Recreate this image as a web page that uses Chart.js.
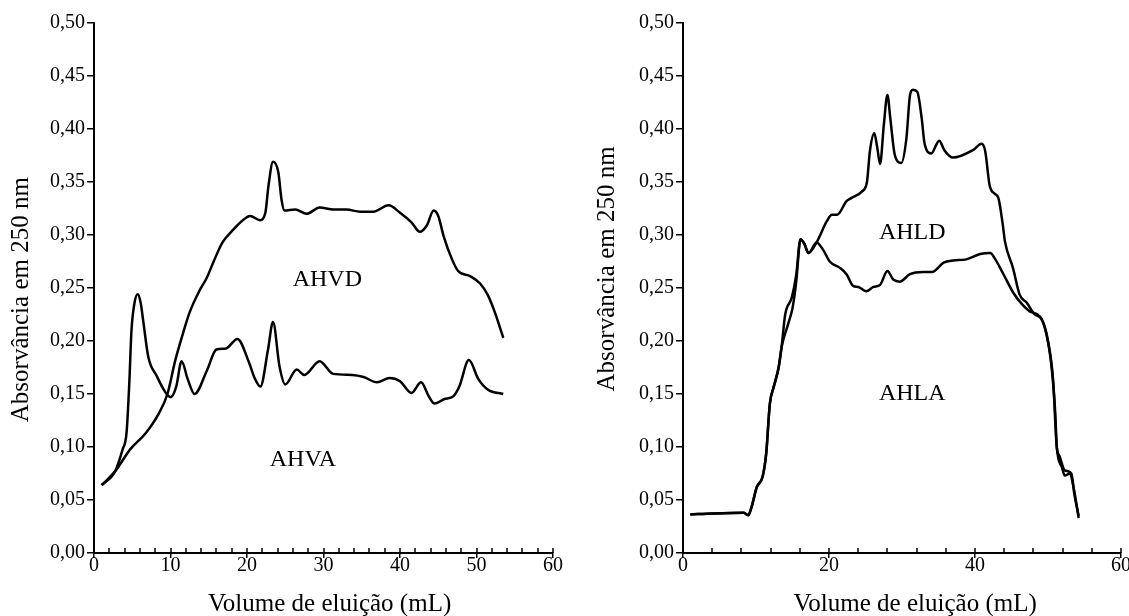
<!DOCTYPE html>
<html>
<head>
<meta charset="utf-8">
<script src="https://cdn.jsdelivr.net/npm/chart.js@4.4.1/dist/chart.umd.min.js"></script>
<style>
  body { margin: 0; background: #fff; }
  #left { position: absolute; left: 0; top: 0; width: 580px; height: 616px; }
  #right { position: absolute; left: 580px; top: 0; width: 549px; height: 616px; overflow: hidden; }
</style>
</head>
<body>
<div id="left"><canvas id="chartLeft" width="580" height="616"></canvas></div>
<div id="right"><canvas id="chartRight" width="575" height="616"></canvas></div>
<script>
// AHVA / AHVD (left panel)
const ahvaX = [1.0, 2.75, 3.75, 4.25, 4.6, 4.9, 5.25, 5.7, 6.1, 6.45, 7.1, 8.2, 9.3, 10.0, 10.75, 11.45, 12.25, 13.15, 14.75, 16.0, 17.25, 18.75, 20.25, 21.0, 21.75, 22.75, 23.4, 24.25, 25.0, 26.5, 27.5, 29.5, 31.25, 33.75, 35.25, 37.0, 38.65, 40.0, 41.5, 42.75, 43.75, 44.5, 45.75, 47.0, 47.75, 49.0, 50.25, 51.5, 53.5];
const ahvaY = [0.064, 0.077, 0.098, 0.113, 0.158, 0.210, 0.234, 0.244, 0.236, 0.218, 0.185, 0.167, 0.152, 0.147, 0.157, 0.181, 0.164, 0.150, 0.172, 0.192, 0.193, 0.202, 0.180, 0.165, 0.157, 0.192, 0.218, 0.176, 0.159, 0.173, 0.168, 0.181, 0.169, 0.168, 0.166, 0.161, 0.165, 0.162, 0.151, 0.161, 0.148, 0.141, 0.145, 0.148, 0.157, 0.182, 0.164, 0.154, 0.150];
const ahvdX = [1.0, 2.75, 4.75, 6.75, 8.5, 9.6, 10.6, 11.5, 12.5, 13.9, 14.7, 15.7, 16.8, 18.2, 19.3, 20.4, 21.7, 22.4, 22.8, 23.4, 24.1, 24.5, 24.9, 26.3, 27.8, 29.5, 31.3, 33.0, 34.8, 36.5, 38.5, 40.0, 41.5, 42.6, 43.5, 44.4, 45.0, 45.7, 46.8, 47.6, 49.2, 50.5, 51.5, 52.4, 53.5];
const ahvdY = [0.064, 0.077, 0.098, 0.113, 0.132, 0.150, 0.181, 0.204, 0.227, 0.249, 0.259, 0.276, 0.293, 0.305, 0.313, 0.318, 0.314, 0.321, 0.346, 0.369, 0.359, 0.334, 0.323, 0.324, 0.320, 0.326, 0.324, 0.324, 0.322, 0.322, 0.328, 0.321, 0.312, 0.303, 0.309, 0.323, 0.318, 0.299, 0.277, 0.266, 0.261, 0.254, 0.243, 0.227, 0.203];

// AHLA / AHLD (right panel)
const ahlaX = [1.0, 4.15, 8.3, 8.95, 9.4, 10.1, 10.9, 11.4, 11.9, 12.4, 13.1, 13.5, 14.4, 15.0, 15.5, 16.1, 16.6, 17.2, 18.3, 19.2, 20.1, 21.5, 22.4, 23.3, 24.0, 25.1, 26.1, 27.0, 28.0, 28.8, 29.7, 31.1, 32.9, 34.1, 35.7, 37.0, 38.8, 40.7, 42.1, 42.7, 43.9, 45.2, 46.4, 47.5, 48.9, 49.8, 50.5, 51.0, 51.2, 51.9, 52.3, 53.0, 53.5, 54.2];
const ahlaY = [0.0364, 0.0373, 0.0379, 0.0357, 0.0435, 0.062, 0.072, 0.094, 0.141, 0.156, 0.175, 0.194, 0.216, 0.231, 0.255, 0.296, 0.292, 0.283, 0.293, 0.286, 0.275, 0.269, 0.263, 0.252, 0.251, 0.247, 0.251, 0.253, 0.266, 0.258, 0.256, 0.263, 0.265, 0.265, 0.274, 0.276, 0.277, 0.282, 0.283, 0.278, 0.263, 0.246, 0.235, 0.228, 0.223, 0.206, 0.175, 0.131, 0.100, 0.081, 0.073, 0.075, 0.062, 0.033];
const ahldX = [1.0, 4.15, 8.3, 8.95, 9.4, 10.1, 10.9, 11.4, 11.9, 12.4, 13.1, 13.5, 14.0, 14.9, 15.5, 16.1, 16.6, 17.2, 18.3, 19.7, 20.4, 21.1, 22.4, 23.1, 24.5, 25.2, 25.6, 26.2, 26.6, 27.0, 27.5, 28.0, 28.4, 29.0, 29.9, 30.6, 31.1, 31.5, 32.1, 32.7, 33.1, 34.0, 35.1, 35.8, 37.0, 39.7, 40.9, 41.4, 42.0, 42.7, 43.2, 43.8, 44.1, 45.2, 46.1, 47.1, 48.2, 49.1, 50.0, 50.7, 51.2, 51.6, 52.3, 53.2, 53.6, 54.2];
const ahldY = [0.0364, 0.0373, 0.0379, 0.0357, 0.0435, 0.062, 0.072, 0.094, 0.141, 0.156, 0.175, 0.194, 0.225, 0.241, 0.262, 0.296, 0.292, 0.283, 0.293, 0.313, 0.319, 0.319, 0.332, 0.335, 0.341, 0.350, 0.379, 0.396, 0.383, 0.367, 0.403, 0.432, 0.410, 0.376, 0.368, 0.391, 0.432, 0.437, 0.435, 0.410, 0.386, 0.377, 0.389, 0.380, 0.373, 0.380, 0.386, 0.379, 0.347, 0.339, 0.335, 0.310, 0.294, 0.269, 0.244, 0.236, 0.225, 0.221, 0.200, 0.163, 0.100, 0.091, 0.078, 0.075, 0.056, 0.035];

// curve labels: [text, x, y]
const leftLabels = [["AHVD", 30.5, 0.258], ["AHVA", 27.3, 0.088]];
const rightLabels = [["AHLD", 31.4, 0.302], ["AHLA", 31.4, 0.150]];

const xTitle = "Volume de eluição (mL)";
const yTitle = "Absorvância em 250 nm";

const serif = "'Liberation Serif', 'Times New Roman', serif";

function pts(xs, ys) {
  return xs.map((x, i) => ({ x: x, y: ys[i] }));
}

const panelExtras = {
  id: "panelExtras",
  afterDraw(chart, args, opts) {
    const { ctx, chartArea } = chart;
    const xs = chart.scales.x;
    const ys = chart.scales.y;
    ctx.save();
    // small inward marks on the x axis
    ctx.strokeStyle = "#000";
    ctx.lineWidth = 1.5;
    xs.ticks.forEach(t => {
      const px = Math.round(xs.getPixelForValue(t.value));
      ctx.beginPath();
      ctx.moveTo(px, chartArea.bottom);
      ctx.lineTo(px, chartArea.bottom - 5);
      ctx.stroke();
    });
    ctx.fillStyle = "#000";
    // curve names
    ctx.font = "24px " + serif;
    ctx.textAlign = "center";
    ctx.textBaseline = "middle";
    opts.labels.forEach(l => {
      ctx.fillText(l[0], xs.getPixelForValue(l[1]), ys.getPixelForValue(l[2]));
    });
    // axis titles
    ctx.font = "25px " + serif;
    ctx.textBaseline = "alphabetic";
    ctx.fillText(xTitle, xs.getPixelForValue(opts.xTitleAt), 611);
    ctx.translate(opts.yTitleBase, ys.getPixelForValue(opts.yTitleAt));
    ctx.rotate(-Math.PI / 2);
    ctx.fillText(yTitle, 0, 0);
    ctx.restore();
  }
};

function makeChart(id, sets, step, major, yAxisWidth, padRight, extras) {
  return new Chart(document.getElementById(id), {
    type: "line",
    data: {
      datasets: sets.map(s => ({
        data: s,
        borderColor: "#000",
        borderWidth: 2.5,
        pointRadius: 0,
        fill: false,
        cubicInterpolationMode: "monotone"
      }))
    },
    options: {
      responsive: false,
      animation: false,
      devicePixelRatio: 1,
      layout: { padding: { top: 23, right: padRight, bottom: 0, left: 0 } },
      plugins: {
        legend: { display: false },
        tooltip: { enabled: false },
        panelExtras: extras
      },
      scales: {
        x: {
          type: "linear",
          min: 0,
          max: 60,
          afterFit: s => { s.height = 63; },
          border: { display: true, color: "#000", width: 2 },
          grid: {
            drawOnChartArea: false,
            drawTicks: true,
            tickLength: 5,
            lineWidth: 1.5,
            tickColor: c => (c.tick && c.tick.value % major === 0) ? "#000" : "rgba(0,0,0,0)"
          },
          ticks: {
            stepSize: step,
            autoSkip: false,
            maxRotation: 0,
            padding: -4,
            color: "#000",
            font: { family: serif, size: 20 },
            callback: v => (v % major === 0 ? String(v) : "")
          }
        },
        y: {
          min: 0,
          max: 0.5,
          afterFit: s => { s.width = yAxisWidth; },
          border: { display: true, color: "#000", width: 2 },
          grid: {
            drawOnChartArea: false,
            drawTicks: true,
            tickLength: 7,
            lineWidth: 1.5,
            tickColor: "#000"
          },
          ticks: {
            stepSize: 0.05,
            padding: 2,
            color: "#000",
            font: { family: serif, size: 20 },
            callback: v => v.toFixed(2).replace(".", ",")
          }
        }
      }
    },
    plugins: [panelExtras]
  });
}

makeChart("chartLeft", [pts(ahvdX, ahvdY), pts(ahvaX, ahvaY)], 2, 10, 94, 27,
  { labels: leftLabels, xTitleAt: 30.8, yTitleAt: 0.239, yTitleBase: 28 });
makeChart("chartRight", [pts(ahldX, ahldY), pts(ahlaX, ahlaY)], 4, 20, 103, 34,
  { labels: rightLabels, xTitleAt: 31.8, yTitleAt: 0.268, yTitleBase: 34 });
</script>
</body>
</html>
